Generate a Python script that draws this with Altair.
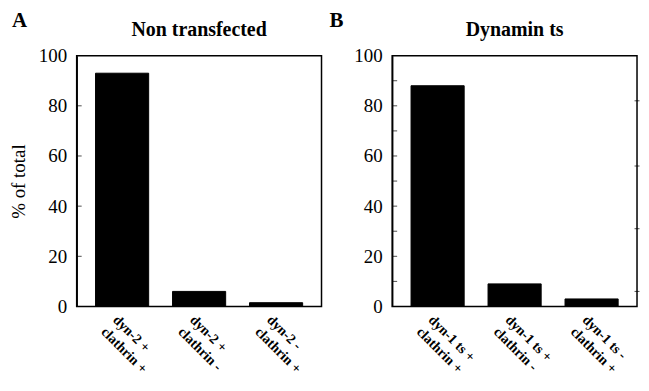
import altair as alt
import pandas as pd

cats_a = ["dyn-2 +|clathrin +", "dyn-2 +|clathrin -", "dyn-2 -|clathrin +"]
vals_a = [93, 6, 1.5]
cats_b = ["dyn-1 ts +|clathrin +", "dyn-1 ts +|clathrin -", "dyn-1 ts -|clathrin +"]
vals_b = [88, 9, 3]
y_labels = [0, 20, 40, 60, 80, 100]
y_ticks_a = [20, 40, 60, 80]
y_ticks_b = [10, 20, 30, 40, 50, 60, 70, 80, 90]
right_ticks_b = [6, 31, 56, 82]

FONT = "Liberation Serif"
W, H = 246, 252
YS = alt.Scale(domain=[0, 100], nice=False)


def panel(cats, vals, title, letter, inner_ticks, show_ytitle, right_ticks=None):
    yaxis = alt.Axis(values=y_labels, grid=False, ticks=False,
                     domainColor="black", domainWidth=1.5, labelFont=FONT, labelFontSize=19,
                     labelColor="black", labelPadding=10,
                     titleFont=FONT, titleFontSize=19, titleFontWeight="normal",
                     titleColor="black", titlePadding=10)
    ytitle = "% of total" if show_ytitle else None
    df = pd.DataFrame({"cat": cats, "val": vals})
    bars = alt.Chart(df).mark_bar(color="black", stroke="black").encode(
        x=alt.X("cat:N", sort=cats, title=None,
                scale=alt.Scale(paddingInner=0.31, paddingOuter=0.245),
                axis=alt.Axis(labelExpr="split(datum.label, '|')", labelAngle=45,
                              labelAlign="left", labelBaseline="top",
                              labelFont=FONT, labelFontWeight="bold", labelFontSize=14,
                              labelLineHeight=17, labelColor="black", labelPadding=6,
                              ticks=False, domain=False, labelOffset=-2)),
        y=alt.Y("val:Q", title=ytitle, scale=YS, axis=yaxis),
    )
    layers = [bars]
    tdf = pd.DataFrame({"v": inner_ticks})
    lt = alt.Chart(tdf).mark_tick(color="black", thickness=1, size=5).encode(
        y=alt.Y("v:Q", scale=YS, title=ytitle, axis=yaxis), x=alt.value(2.5))
    layers.append(lt)
    if right_ticks is not None:
        rdf = pd.DataFrame({"v": right_ticks})
        rt = alt.Chart(rdf).mark_tick(color="black", thickness=1, size=5).encode(
            y=alt.Y("v:Q", scale=YS, title=ytitle, axis=yaxis), x=alt.value(W))
        layers.append(rt)
    lab = alt.Chart(pd.DataFrame({"t": [letter]})).mark_text(
        font=FONT, fontSize=21, fontWeight="bold", color="black", align="left",
        baseline="middle"
    ).encode(text="t:N", x=alt.value(-65 if show_ytitle else -63), y=alt.value(-35))
    ttl = alt.Chart(pd.DataFrame({"t": [title]})).mark_text(
        font=FONT, fontSize=20, fontWeight="bold", color="black", align="center",
        baseline="middle"
    ).encode(text="t:N", x=alt.value(W / 2), y=alt.value(-26))
    layers += [lab, ttl]
    return alt.layer(*layers).properties(width=W, height=H)


a = panel(cats_a, vals_a, "Non transfected", "A", y_ticks_a, True)
b = panel(cats_b, vals_b, "Dynamin ts", "B", y_ticks_b, False, right_ticks_b)

chart = alt.hconcat(a, b, spacing=71, bounds="flush").configure(
    background="white", padding={"left": 0, "top": 0, "right": 0, "bottom": 0}
).configure_view(stroke="black", strokeWidth=1.5)

chart.save("out.html", embed_options={"renderer": "svg", "actions": False})
